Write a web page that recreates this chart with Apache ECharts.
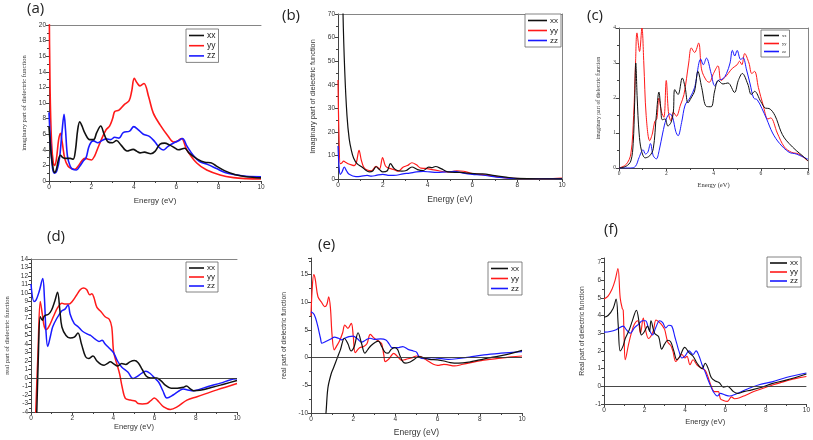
<!DOCTYPE html>
<html><head><meta charset="utf-8">
<script src="https://cdn.jsdelivr.net/npm/echarts@6/dist/echarts.min.js"></script>
<style>html,body{margin:0;padding:0;background:#fff}#c{width:813px;height:440px}</style>
</head><body><div id="c"></div><script>
// ---------- DATA ([energy, value]) ----------
const names = ['xx', 'yy', 'zz'];
const panelLabels = ['(a)', '(b)', '(c)', '(d)', '(e)', '(f)'];

const aXX = [[0,7],[0.1,3.5],[0.2,1.5],[0.27,1.1],[0.35,1.5],[0.45,2.8],[0.54,3.3],[0.65,3.0],[0.8,2.9],[1.0,2.9],[1.14,2.8],[1.25,4.0],[1.35,6.5],[1.45,7.6],[1.55,7.1],[1.7,6.1],[1.92,5.3],[2.1,5.3],[2.25,6.2],[2.44,7.05],[2.6,6.0],[2.79,5.0],[3.0,4.9],[3.18,5.2],[3.4,4.6],[3.68,3.85],[3.97,4.06],[4.15,3.8],[4.3,3.6],[4.5,3.7],[4.8,3.5],[5.0,3.8],[5.24,4.74],[5.45,4.85],[5.7,4.6],[5.9,4.3],[6.1,4.0],[6.4,4.2],[6.6,3.6],[7.0,2.8],[7.35,2.4],[7.63,2.35],[7.9,1.9],[8.3,1.3],[8.8,0.8],[9.3,0.55],[10,0.4]];
const aYY = [[0,26],[0.05,12],[0.12,5],[0.2,2.4],[0.27,2.0],[0.35,2.8],[0.45,5.2],[0.54,6.1],[0.62,5.0],[0.75,2.8],[0.9,1.9],[1.05,1.6],[1.21,1.5],[1.4,2.0],[1.55,2.6],[1.69,2.9],[1.85,2.8],[2.0,2.7],[2.15,3.2],[2.3,4.2],[2.5,5.5],[2.7,6.6],[2.85,7.0],[3.0,8.0],[3.1,8.9],[3.3,9.1],[3.55,9.8],[3.78,10.3],[3.9,11.5],[4.02,13.16],[4.15,12.6],[4.29,12.2],[4.48,12.5],[4.7,10.8],[4.92,8.7],[5.24,7.2],[5.63,5.7],[5.87,5.0],[6.05,5.1],[6.25,5.45],[6.5,4.0],[6.97,2.3],[7.44,1.4],[8.07,0.77],[8.7,0.43],[9.3,0.3],[10,0.25]];
const aZZ = [[0,8.8],[0.08,4.5],[0.17,1.6],[0.27,1.0],[0.37,1.3],[0.5,3.0],[0.62,6.5],[0.71,8.55],[0.78,6.5],[0.87,3.2],[1.0,1.9],[1.12,1.5],[1.29,1.41],[1.45,1.9],[1.6,2.5],[1.75,3.0],[1.87,4.3],[2.0,5.04],[2.1,5.15],[2.3,4.9],[2.5,5.2],[2.7,5.4],[2.9,5.3],[3.1,5.6],[3.3,5.5],[3.5,6.2],[3.8,6.4],[4.0,6.97],[4.2,6.6],[4.45,6.0],[4.75,5.7],[5.0,5.0],[5.2,4.3],[5.39,3.97],[5.6,4.4],[5.9,4.9],[6.1,5.15],[6.3,5.45],[6.5,4.5],[6.8,3.3],[7.1,2.5],[7.5,2.1],[7.9,1.6],[8.3,1.1],[8.8,0.8],[9.3,0.6],[10,0.55]];

const bXX = [[0.15,120],[0.22,72],[0.3,46],[0.4,27],[0.5,17],[0.6,12],[0.7,8.8],[0.85,6.5],[1.07,5.1],[1.2,4.0],[1.4,3.0],[1.55,3.4],[1.7,5.2],[1.85,4.0],[2.0,3.0],[2.2,3.5],[2.34,6.5],[2.5,4.5],[2.65,3.6],[2.85,3.3],[3.05,3.6],[3.3,5.1],[3.55,4.0],[3.8,3.6],[4.05,5.0],[4.2,4.8],[4.35,5.3],[4.6,4.4],[4.9,3.0],[5.2,2.8],[5.5,2.8],[5.8,2.5],[6.2,2.2],[6.45,2.2],[7.0,1.4],[7.5,0.8],[8.0,0.3],[9.0,0.1],[10,0.1]];
const bYY = [[0,42],[0.04,20],[0.1,6.5],[0.17,6.8],[0.25,7.6],[0.35,7.0],[0.45,6.5],[0.6,6.0],[0.72,5.7],[0.82,7.0],[0.94,12.2],[1.04,8.0],[1.15,5.0],[1.3,3.8],[1.5,3.5],[1.7,5.4],[1.85,4.2],[1.99,9.1],[2.12,5.5],[2.3,4.5],[2.5,4.0],[2.7,3.3],[2.9,5.0],[3.1,5.7],[3.3,6.9],[3.5,6.0],[3.7,4.6],[3.9,4.5],[4.2,4.0],[4.5,3.5],[4.8,3.0],[5.0,3.0],[5.3,3.5],[5.6,3.3],[5.9,2.5],[6.3,2.0],[6.7,1.5],[7.2,0.8],[7.8,0.3],[8.5,0.1],[9.3,0.15],[10,0.4]];
const bZZ = [[0,14],[0.05,5],[0.1,2.0],[0.18,3.0],[0.28,5.1],[0.38,3.5],[0.5,2.0],[0.8,1.0],[1.0,1.1],[1.3,1.5],[1.5,1.2],[1.7,1.5],[2.0,2.0],[2.3,1.5],[2.6,1.6],[2.9,2.2],[3.2,2.5],[3.5,3.0],[3.8,3.2],[4.1,3.0],[4.4,2.8],[4.8,3.0],[5.2,3.2],[5.6,2.5],[6.0,2.0],[6.4,1.7],[6.8,1.2],[7.2,0.7],[7.7,0.3],[8.5,0.1],[10,0.15]];

const cXX = [[0,0],[0.3,0.05],[0.5,0.2],[0.6,0.7],[0.66,1.8],[0.71,3.0],[0.77,2.0],[0.85,1.0],[0.95,0.5],[1.11,0.29],[1.3,0.35],[1.45,0.55],[1.58,1.5],[1.69,2.17],[1.77,1.7],[1.83,1.38],[1.95,1.4],[2.07,1.2],[2.2,1.3],[2.3,1.6],[2.36,2.24],[2.5,2.1],[2.68,2.57],[2.8,2.3],[2.92,1.86],[3.05,2.0],[3.2,2.2],[3.34,2.76],[3.5,2.3],[3.7,1.76],[3.9,1.75],[4.05,2.2],[4.2,2.5],[4.4,2.4],[4.61,2.43],[4.89,2.16],[5.05,2.5],[5.22,2.7],[5.45,2.4],[5.6,2.1],[5.74,2.19],[6.0,1.9],[6.2,1.71],[6.35,1.7],[6.6,1.5],[6.85,1.05],[7.0,0.86],[7.2,0.7],[7.5,0.5],[7.8,0.33],[8.0,0.2]];
const cYY = [[0,0],[0.3,0.1],[0.5,0.4],[0.62,1.5],[0.7,3.0],[0.76,3.86],[0.87,3.33],[0.97,4.0],[1.05,3.0],[1.15,1.5],[1.3,0.78],[1.42,1.0],[1.51,1.33],[1.6,1.4],[1.69,2.0],[1.8,1.6],[1.9,1.45],[2.0,2.5],[2.1,1.55],[2.2,1.35],[2.3,1.6],[2.43,1.48],[2.6,1.8],[2.75,2.1],[2.95,3.0],[3.06,3.43],[3.2,3.3],[3.37,3.57],[3.5,2.8],[3.7,2.5],[3.82,2.45],[4.0,2.7],[4.19,2.92],[4.32,2.5],[4.5,2.6],[4.62,2.7],[4.8,2.85],[5.0,2.95],[5.1,3.05],[5.2,2.95],[5.32,3.27],[5.5,3.0],[5.62,2.7],[5.74,2.76],[5.9,2.3],[6.1,1.8],[6.3,1.4],[6.42,1.43],[6.7,1.0],[7.0,0.6],[7.3,0.45],[7.6,0.4],[8.0,0.2]];
const cZZ = [[0,0],[0.5,0],[0.7,0.05],[0.85,0.3],[1.02,0.52],[1.12,0.4],[1.22,0.45],[1.33,0.7],[1.45,0.35],[1.58,0.26],[1.7,0.5],[1.85,1.0],[2.0,1.4],[2.15,1.55],[2.27,1.45],[2.4,1.05],[2.5,0.92],[2.65,1.3],[2.8,1.8],[3.0,2.0],[3.2,2.3],[3.46,3.11],[3.57,2.95],[3.7,3.14],[3.9,2.7],[4.05,2.35],[4.2,2.5],[4.4,2.55],[4.55,2.7],[4.7,3.0],[4.8,3.36],[4.9,3.2],[5.0,3.36],[5.15,3.1],[5.25,3.15],[5.4,2.8],[5.55,2.4],[5.7,2.0],[5.85,1.95],[6.05,1.7],[6.25,1.4],[6.5,1.0],[6.8,0.7],[7.2,0.45],[7.5,0.4],[8.0,0.25]];

const dXX = [[0.2,-8],[0.28,-4],[0.35,2],[0.45,7.2],[0.55,6.8],[0.65,7.3],[0.85,7.5],[1.0,8.0],[1.15,9.0],[1.29,10.1],[1.4,8.0],[1.5,6.0],[1.7,5.0],[1.9,4.7],[2.1,4.8],[2.28,5.28],[2.45,4.0],[2.65,2.5],[2.8,2.3],[3.01,2.6],[3.2,2.0],[3.4,1.6],[3.55,1.5],[3.7,1.7],[3.85,1.9],[4.0,1.7],[4.2,1.4],[4.4,1.7],[4.6,1.6],[4.8,1.9],[5.02,2.05],[5.2,1.8],[5.4,1.0],[5.6,0.2],[5.8,0.0],[6.1,0.0],[6.3,-0.3],[6.5,-0.8],[6.8,-1.2],[7.1,-1.2],[7.4,-1.1],[7.54,-0.94],[7.75,-1.3],[7.9,-1.5],[8.2,-1.45],[8.8,-1.1],[9.4,-0.7],[10,-0.3]];
const dYY = [[0.15,-10],[0.23,-4],[0.34,3],[0.45,9.0],[0.55,7.5],[0.65,6.0],[0.75,5.7],[0.9,6.2],[1.1,7.3],[1.3,8.3],[1.5,8.8],[1.65,8.7],[1.85,8.7],[2.0,9.0],[2.2,9.7],[2.4,10.4],[2.55,10.6],[2.7,10.4],[2.85,9.8],[2.95,9.9],[3.05,9.5],[3.2,8.3],[3.4,7.8],[3.6,7.2],[3.8,6.9],[3.92,6.0],[4.01,3.1],[4.15,1.8],[4.3,0.5],[4.42,-1.0],[4.58,-2.4],[4.82,-2.6],[5.06,-2.7],[5.2,-3.0],[5.4,-3.05],[5.63,-3.0],[5.8,-2.7],[5.99,-2.35],[6.2,-2.8],[6.44,-3.4],[6.76,-3.7],[7.09,-3.4],[7.57,-2.6],[8.06,-2.2],[9.03,-1.4],[10,-0.65]];
const dZZ = [[0,11.06],[0.15,9.0],[0.25,9.2],[0.4,10.2],[0.57,11.7],[0.65,9.5],[0.72,5.8],[0.81,3.7],[0.95,5.0],[1.05,6.0],[1.25,7.0],[1.5,7.9],[1.65,8.1],[1.8,8.6],[1.9,7.5],[2.1,6.4],[2.3,6.0],[2.5,5.5],[2.8,5.1],[2.9,5.0],[3.1,4.6],[3.3,4.3],[3.45,4.45],[3.6,4.0],[3.8,3.5],[4.0,3.0],[4.2,2.0],[4.4,1.3],[4.7,0.7],[4.95,-0.06],[5.1,0.1],[5.4,0.6],[5.58,0.8],[5.8,0.5],[6.0,0.0],[6.2,-0.5],[6.4,-1.5],[6.6,-2.36],[6.9,-2.0],[7.2,-1.5],[7.4,-1.3],[7.6,-1.4],[7.9,-1.5],[8.1,-1.4],[8.6,-1.0],[9.2,-0.6],[9.7,-0.2],[10,-0.1]];

const eXX = [[0.6,-14],[0.71,-10],[0.8,-5.5],[0.95,-3],[1.05,-2],[1.25,0],[1.4,1.5],[1.58,3.5],[1.75,2.5],[1.9,1.2],[2.05,2.0],[2.23,4.5],[2.4,2.5],[2.55,0.8],[2.7,1.5],[2.85,2.2],[3.05,2.8],[3.2,3.0],[3.35,2.0],[3.5,1.0],[3.65,0.8],[3.8,1.5],[3.95,1.8],[4.1,1.5],[4.2,0.5],[4.35,-0.7],[4.5,-1.0],[4.7,-0.8],[4.9,-0.3],[5.1,0.2],[5.3,0.0],[5.6,-0.3],[6.0,-0.4],[6.3,-0.6],[6.6,-0.9],[7.0,-1.0],[7.5,-0.8],[8.0,-0.4],[8.5,0.0],[9.2,0.5],[10,1.3]];
const eYY = [[0,7.5],[0.05,12],[0.13,15.0],[0.2,14.2],[0.33,11.0],[0.5,10.0],[0.65,9.2],[0.75,9.6],[0.84,11.0],[0.92,9.0],[1.0,4.0],[1.1,1.4],[1.2,2.0],[1.35,3.0],[1.5,4.5],[1.6,5.9],[1.75,5.3],[1.91,6.2],[2.0,4.0],[2.1,0.9],[2.3,1.8],[2.5,2.0],[2.65,2.5],[2.81,4.2],[3.0,3.5],[3.2,3.0],[3.35,2.5],[3.45,0.5],[3.52,-0.72],[3.7,-0.2],[3.92,0.78],[4.1,0.2],[4.3,-0.5],[4.5,-0.3],[4.8,0.0],[5.0,0.3],[5.2,0.2],[5.5,-0.5],[5.8,-1.2],[6.0,-1.4],[6.3,-1.2],[6.5,-1.3],[6.8,-1.5],[7.2,-1.2],[7.7,-0.8],[8.3,-0.4],[9.0,-0.1],[9.5,0.15],[10,0.3]];
const eZZ = [[0,8.3],[0.15,7.8],[0.3,6.0],[0.45,3.5],[0.52,2.6],[0.75,3.0],[1.0,3.5],[1.1,3.7],[1.3,3.5],[1.45,3.2],[1.6,3.5],[1.8,3.8],[2.0,3.9],[2.2,3.4],[2.4,2.8],[2.6,3.2],[2.8,3.5],[3.0,3.3],[3.3,3.4],[3.55,3.2],[3.7,2.5],[3.85,1.8],[4.1,1.8],[4.35,2.0],[4.6,1.5],[4.85,1.2],[5.0,1.0],[5.15,0.0],[5.4,-0.2],[5.7,0.0],[6.0,-0.1],[6.5,-0.3],[6.9,-0.2],[7.5,0.1],[8.2,0.5],[9.0,0.8],[10,1.1]];

const fXX = [[0,3.9],[0.2,4.0],[0.45,4.4],[0.6,4.93],[0.7,3.5],[0.8,2.0],[0.95,2.3],[1.05,2.7],[1.25,3.2],[1.4,3.7],[1.6,4.3],[1.75,3.5],[1.85,2.9],[2.0,3.1],[2.15,3.4],[2.25,3.1],[2.32,3.7],[2.5,3.0],[2.7,2.8],[2.85,2.1],[3.0,2.4],[3.15,2.6],[3.3,2.5],[3.45,2.0],[3.6,1.5],[3.75,1.7],[3.99,2.2],[4.2,1.9],[4.4,1.7],[4.6,1.3],[4.85,1.0],[5.0,1.3],[5.15,1.0],[5.3,0.5],[5.5,0.3],[5.7,0.2],[5.9,-0.05],[6.1,0.0],[6.4,-0.3],[6.6,-0.4],[6.9,-0.3],[7.3,-0.2],[7.8,-0.05],[8.3,0.15],[9.0,0.35],[10,0.7]];
const fYY = [[0,4.93],[0.2,5.1],[0.4,5.5],[0.55,6.0],[0.69,6.66],[0.8,5.0],[0.9,4.4],[0.95,4.3],[1.0,2.5],[1.05,1.5],[1.2,2.3],[1.35,3.0],[1.5,3.5],[1.67,3.7],[1.8,3.0],[1.94,3.85],[2.05,3.2],[2.2,2.7],[2.35,2.9],[2.45,3.2],[2.57,3.75],[2.75,3.6],[2.9,3.4],[3.0,3.2],[3.15,2.5],[3.3,2.3],[3.4,2.0],[3.55,1.4],[3.7,1.6],[3.85,1.8],[4.0,1.6],[4.1,1.7],[4.25,1.22],[4.4,1.5],[4.6,1.2],[4.85,1.0],[5.0,0.9],[5.15,0.5],[5.3,0.0],[5.45,-0.3],[5.65,-0.3],[5.75,-0.7],[5.9,-0.8],[6.1,-0.85],[6.3,-0.6],[6.45,-0.7],[6.7,-0.65],[7.0,-0.5],[7.4,-0.3],[7.9,-0.1],[8.4,0.1],[9.0,0.3],[9.5,0.45],[10,0.55]];
const fZZ = [[0,3.06],[0.3,3.1],[0.6,3.2],[0.95,3.4],[1.1,3.2],[1.3,3.0],[1.5,3.3],[1.7,3.5],[1.9,3.7],[2.05,3.7],[2.2,3.3],[2.4,2.9],[2.55,3.3],[2.75,3.7],[2.9,3.6],[3.05,3.3],[3.2,3.45],[3.35,3.4],[3.5,2.8],[3.6,2.4],[3.7,2.0],[3.85,1.6],[4.0,1.7],[4.2,2.0],[4.4,1.8],[4.55,2.0],[4.7,1.7],[4.85,1.2],[5.0,0.8],[5.2,0.2],[5.4,-0.3],[5.6,-0.55],[5.75,-0.4],[6.0,-0.5],[6.2,-0.55],[6.5,-0.45],[6.8,-0.3],[7.2,-0.1],[7.7,0.1],[8.3,0.25],[9.0,0.5],[10,0.75]];

// axis ranges [min, max, interval]
const xRanges = [[0,10,2],[0,10,2],[0,8,2],[0,10,2],[0,10,2],[0,10,2]];
const yRanges = [[0,20,2],[0,70,10],[0,4,1],[-4,14,1],[-10,18,5],[-1,7.25,1]];
const yNames = ['imaginary part of dielectric function','Imaginary part of dielectric function','imaginary part of dielectric function','real part of dielectric function','real part of dielectric function','Real part of dielectric function'];
const xName = 'Energy (eV)';
const seriesData = [[aXX,aYY,aZZ],[bXX,bYY,bZZ],[cXX,cYY,cZZ],[dXX,dYY,dZZ],[eXX,eYY,eZZ],[fXX,fYY,fZZ]];

// ---------- LAYOUT / STYLE ----------
const colors = ['#111111', '#ff1a1a', '#1a1aff'];
const SANS = 'Liberation Sans', SERIF = 'Liberation Serif';
const layout = [
  {grid:{left:49,top:25,width:212,height:156}, lw:1.6, tick:6.5, xn:8, xg:16, yn:6.6, yg:21, yFont:SERIF, lab:SANS, frame:{top:true,right:false}, zero:false,
   title:{left:27,top:1}, legend:{left:186,top:29,iw:15,fs:8.5,lh:9,gap:1.2,font:SANS}},
  {grid:{left:338,top:14,width:224,height:165}, lw:1.2, tick:6.5, xn:8.5, xg:16, yn:7.4, yg:22, yFont:SANS, lab:SANS, frame:{top:true,right:true}, zero:false,
   title:{left:282,top:8}, legend:{left:525,top:14,iw:19,fs:8,lh:9,gap:1,font:SANS}},
  {grid:{left:619,top:28,width:189,height:140}, lw:1.0, tick:5.5, xn:6.5, xg:14, yn:5.7, yg:17, yFont:SERIF, lab:SERIF, frame:{top:true,right:true}, zero:false,
   title:{left:587,top:8}, legend:{left:761,top:30,iw:15,fs:4.5,lh:7,gap:1,font:SERIF}},
  {grid:{left:31,top:259,width:206,height:153}, lw:1.5, tick:6.5, xn:7.5, xg:11, yn:6.6, yg:20, yFont:SERIF, lab:SANS, frame:{top:true,right:false}, zero:true,
   title:{left:47,top:229}, legend:{left:186,top:262,iw:15,fs:8,lh:8,gap:1,font:SANS}},
  {grid:{left:311,top:258,width:211,height:155}, lw:1.2, tick:6.5, xn:8.5, xg:15, yn:6.8, yg:23, yFont:SANS, lab:SANS, frame:{top:false,right:false}, zero:true,
   title:{left:318,top:237}, legend:{left:488,top:262,iw:17,fs:8,lh:9,gap:1,font:SANS}},
  {grid:{left:604,top:258,width:204,height:146}, lw:1.1, tick:6.5, xn:7.5, xg:14, yn:6.8, yg:18, yFont:SANS, lab:SANS, frame:{top:false,right:false}, zero:true,
   title:{left:604,top:222}, legend:{left:767,top:257,iw:17,fs:8,lh:8,gap:1,font:SANS}}
];

const AX = '#444';
const grid = [], xAxis = [], yAxis = [], series = [], legend = [], title = [];
layout.forEach((L, i) => {
  grid.push(Object.assign({containLabel:false}, L.grid));
  const [x0,x1,xi] = xRanges[i], [y0,y1,yi] = yRanges[i];
  xAxis.push({gridIndex:i, type:'value', min:x0, max:x1, interval:xi,
    axisLine:{onZero:false, lineStyle:{color:AX, width:1}},
    axisTick:{length:3, lineStyle:{color:AX}}, minorTick:{show:true, splitNumber:2, length:2, lineStyle:{color:AX}},
    splitLine:{show:false},
    axisLabel:{fontSize:L.tick, color:'#333', margin:3, fontFamily:L.lab},
    name:xName, nameLocation:'middle', nameGap:L.xg, nameTextStyle:{fontSize:L.xn, color:'#333', fontFamily:L.lab}});
  yAxis.push({gridIndex:i, type:'value', min:y0, max:y1, interval:yi,
    axisLine:{onZero:false, lineStyle:{color:AX, width:1}},
    axisTick:{length:3, lineStyle:{color:AX}}, minorTick:{show:true, splitNumber:2, length:2, lineStyle:{color:AX}},
    splitLine:{show:false},
    axisLabel:{fontSize:L.tick, color:'#333', margin:3, fontFamily:L.lab,
      formatter: v => (Math.abs((v - y0) / yi - Math.round((v - y0) / yi)) < 1e-6 ? String(v) : '')},
    name:yNames[i], nameLocation:'middle', nameGap:L.yg, nameTextStyle:{fontSize:L.yn, color:'#333', fontFamily:L.yFont}});
  series.push(...seriesData[i].map((d, k) => ({
    type:'line', name:names[k], xAxisIndex:i, yAxisIndex:i, data:d, smooth:0.35,
    showSymbol:false, symbol:'none', clip:true, z: k === 0 ? 4 : 3,
    lineStyle:{color:colors[k], width:L.lw}, itemStyle:{color:colors[k]},
    markLine: (L.zero && k === 0) ? {silent:true, symbol:'none', label:{show:false},
      lineStyle:{color:'#333', width:0.9, type:'solid'}, data:[{yAxis:0}]} : undefined
  })));
  title.push({text:panelLabels[i], left:L.title.left, top:L.title.top, padding:0,
    textStyle:{fontSize:15, fontWeight:'normal', color:'#222', fontFamily:'Open Sans'}});
  const lg = L.legend;
  legend.push({data:names, orient:'vertical', left:lg.left, top:lg.top, icon:'rect',
    itemWidth:lg.iw, itemHeight:1.6, itemGap:lg.gap, padding:[2,3,2,3], itemStyle:{borderWidth:0},
    borderColor:'#666', borderWidth:0.8, backgroundColor:'#fff', selectedMode:false,
    textStyle:{fontSize:lg.fs, lineHeight:lg.lh, color:'#222', fontFamily:lg.font, padding:[0,0,0,-2]}});
});
// frame axes (top / right edges of boxed panels)
layout.forEach((L, i) => {
  const [x0,x1] = xRanges[i], [y0,y1] = yRanges[i];
  if (L.frame.top) xAxis.push({gridIndex:i, type:'value', position:'top', min:x0, max:x1,
    axisLine:{onZero:false, lineStyle:{color:'#777', width:0.9}}, axisTick:{show:false}, axisLabel:{show:false}, splitLine:{show:false}});
  if (L.frame.right) yAxis.push({gridIndex:i, type:'value', position:'right', min:y0, max:y1,
    axisLine:{onZero:false, lineStyle:{color:'#777', width:0.9}}, axisTick:{show:false}, axisLabel:{show:false}, splitLine:{show:false}});
});

const chart = echarts.init(document.getElementById('c'), null, {renderer:'canvas'});
chart.setOption({animation:false, backgroundColor:'#fff', title, grid, xAxis, yAxis, series, legend});
</script></body></html>
